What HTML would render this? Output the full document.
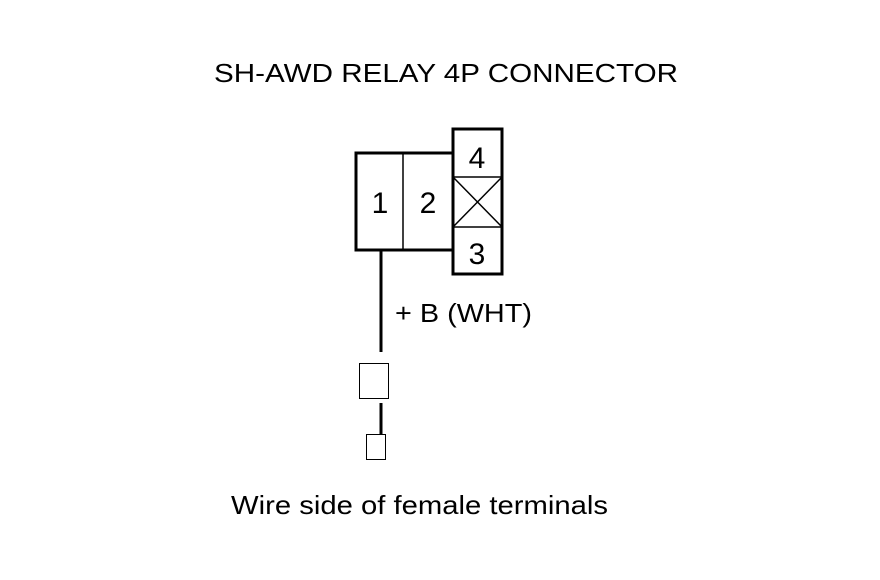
<!DOCTYPE html>
<html><head><style>html,body{margin:0;padding:0;background:#fff;}svg{display:block}</style></head>
<body>
<svg width="880" height="580" viewBox="0 0 880 580" xmlns="http://www.w3.org/2000/svg" font-family="Liberation Sans, Arial, sans-serif" fill="#000">
<rect width="880" height="580" fill="#fff"/>
<text x="214" y="82" font-size="26" textLength="464" lengthAdjust="spacingAndGlyphs">SH-AWD RELAY 4P CONNECTOR</text>
<g fill="none" stroke="#000" stroke-width="3">
<path d="M452 153 H356 V250 H452"/>
<rect x="453" y="129" width="49" height="145"/>
</g>
<g stroke="#000" stroke-width="1.5" fill="none">
<line x1="403" y1="153" x2="403" y2="250"/>
<line x1="453" y1="177" x2="502" y2="177"/>
<line x1="453" y1="227" x2="502" y2="227"/>
<line x1="453" y1="177" x2="502" y2="227"/>
<line x1="502" y1="177" x2="453" y2="227"/>
</g>
<g font-size="30" text-anchor="middle">
<text x="380" y="213">1</text>
<text x="428" y="213">2</text>
<text x="477" y="168">4</text>
<text x="477" y="264">3</text>
</g>
<line x1="381" y1="250" x2="381" y2="352" stroke="#000" stroke-width="3"/>
<rect x="359.5" y="363.5" width="29" height="35" fill="none" stroke="#000" stroke-width="1"/>
<line x1="381" y1="403" x2="381" y2="435" stroke="#000" stroke-width="3"/>
<rect x="366.5" y="434.5" width="19" height="25" fill="none" stroke="#000" stroke-width="1"/>
<text x="395" y="322" font-size="26" textLength="137" lengthAdjust="spacingAndGlyphs">+ B (WHT)</text>
<text x="231" y="514" font-size="26" textLength="377" lengthAdjust="spacingAndGlyphs">Wire side of female terminals</text>
</svg>
</body></html>
